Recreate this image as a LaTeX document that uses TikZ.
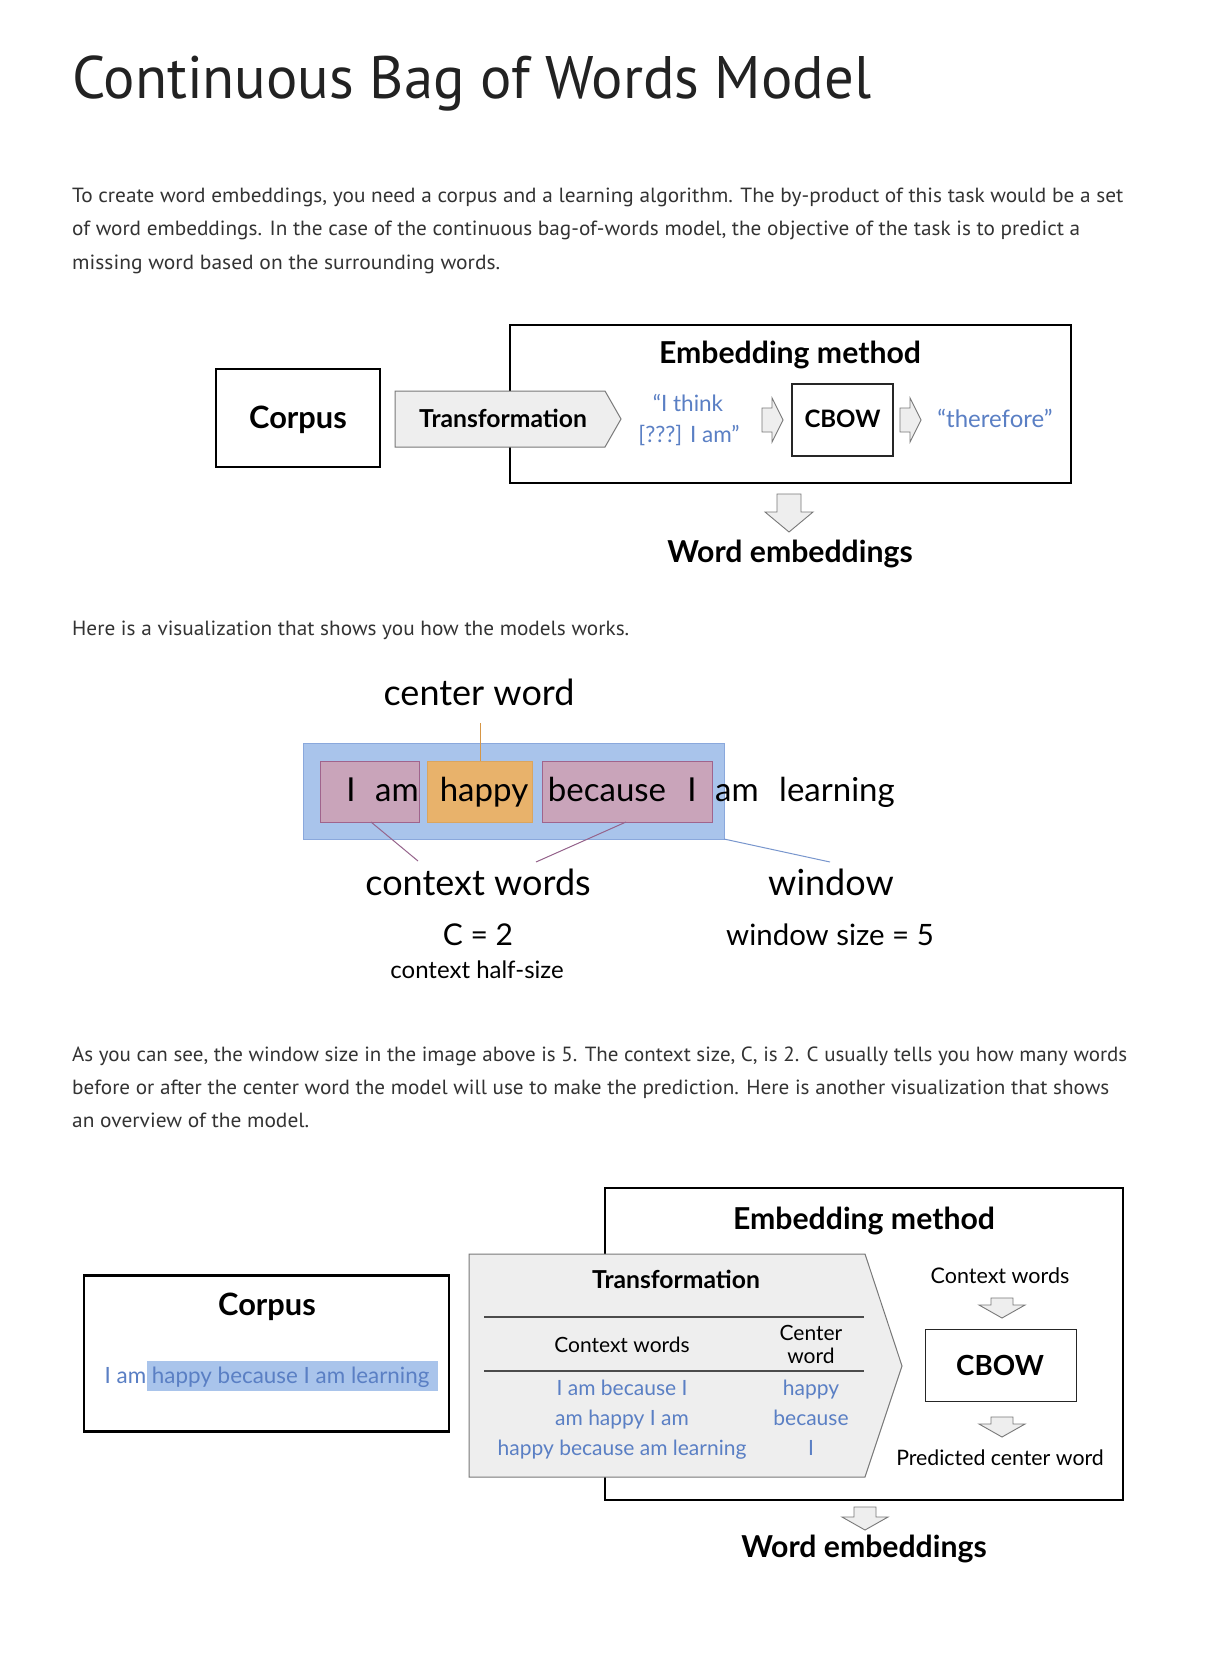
\documentclass[tikz,border=0pt]{standalone}
\usepackage{fontspec}
\usepackage{graphicx}
\setmainfont{Lato}
\newfontfamily\bodyfont{PT Sans}
\newcommand{\setfs}[1]{\fontsize{#1}{#1}\selectfont}
\newcommand{\fitw}[2]{\resizebox{#1}{\height}{#2}}
\definecolor{qblue}{RGB}{90,127,196}
\definecolor{bodygray}{RGB}{51,51,51}
\definecolor{titlegray}{RGB}{34,34,34}
\definecolor{arrfill}{RGB}{238,238,238}
\definecolor{arrdraw}{RGB}{120,120,120}
\definecolor{winfill}{RGB}{169,196,235}
\definecolor{windraw}{RGB}{138,168,220}
\definecolor{pinkfill}{RGB}{201,164,186}
\definecolor{pinkdraw}{RGB}{160,100,140}
\definecolor{orgfill}{RGB}{232,178,107}
\definecolor{orgdraw}{RGB}{218,165,95}
\definecolor{orgline}{RGB}{214,150,70}
\definecolor{purline}{RGB}{150,100,140}
\definecolor{blueline}{RGB}{120,150,205}
\definecolor{hlblue}{RGB}{169,196,235}
\begin{document}
\begin{tikzpicture}[x=1pt,y=-1pt,
  bodyline/.style={inner sep=0pt, anchor=base west, font=\bodyfont\setfs{20.5}, text=bodygray},
  lbl/.style={inner sep=0pt, anchor=base},
  thickbox/.style={draw=black, line width=2.2pt, inner sep=0pt},
  thinbox/.style={draw=black!85, line width=1.3pt, inner sep=0pt},
  blockarrow/.style={draw=arrdraw, fill=arrfill, line width=0.9pt, line join=miter},
  tablerule/.style={draw=black!70, line width=1.3pt},
  bluetxt/.style={lbl, text=qblue},
  boldtitle/.style={lbl, font=\bfseries\setfs{30.2}},
  corpusfont/.style={lbl, font=\bfseries\setfs{30.8}},
  transfont/.style={lbl, font=\bfseries\setfs{24.7}},
]
\useasboundingbox[fill=white] (0,0) rectangle (1207,1672);

% ---------------- title and paragraphs ----------------
\node[inner sep=0pt, anchor=base west, font=\bodyfont\setfs{60}, text=titlegray] (title) at (72,99)
  {\fitw{799pt}{Continuous Bag of Words Model}};

\node[bodyline] (p1a) at (72,203) {\fitw{1051pt}{To create word embeddings, you need a corpus and a learning algorithm. The by-product of this task would be a set}};
\node[bodyline] (p1b) at (72,236) {\fitw{1008pt}{of word embeddings. In the case of the continuous bag-of-words model, the objective of the task is to predict a}};
\node[bodyline] (p1c) at (72,269) {\fitw{428pt}{missing word based on the surrounding words.}};

\node[bodyline] (p2) at (72,635) {\fitw{557pt}{Here is a visualization that shows you how the models works.}};

\node[bodyline] (p3a) at (72,1061) {\fitw{1055pt}{As you can see, the window size in the image above is 5. The context size, C, is 2. C usually tells you how many words}};
\node[bodyline] (p3b) at (72,1094) {\fitw{1037pt}{before or after the center word the model will use to make the prediction. Here is another visualization that shows}};
\node[bodyline] (p3c) at (72,1127) {\fitw{237pt}{an overview of the model.}};

% ---------------- diagram 1 ----------------
\node[thickbox, minimum width=164pt, minimum height=98pt] (corpus1) at (298,418) {};
\node[corpusfont] (corpus1t) at (298,428) {Corpus};

\node[draw=black, line width=2pt, inner sep=0pt, minimum width=561pt, minimum height=158pt] (emb1) at (790.5,404) {};
\node[boldtitle] (emb1t) at (790,363) {Embedding method};

\draw[blockarrow, line width=1pt] (395,391) -- (605,391) -- (621,419) -- (605,447) -- (395,447) -- cycle;
\node[transfont] (trans1) at (503,427) {Transformation};

\node[bluetxt, font=\setfs{22.5}] (q1a) at (688,411) {“I think};
\node[bluetxt, font=\setfs{22.5}] (q1b) at (689,442) {[???] I am”};

\draw[blockarrow] (762,408) -- (772,408) -- (772,398) -- (783,420) -- (772,442) -- (772,432) -- (762,432) -- cycle;

\node[thinbox, minimum width=101pt, minimum height=72pt] (cbow1) at (842.5,420) {};
\node[lbl, font=\bfseries\setfs{24}] (cbow1t) at (842.5,427) {CBOW};

\draw[blockarrow] (900,408) -- (910,408) -- (910,398) -- (921,420) -- (910,442) -- (910,432) -- (900,432) -- cycle;

\node[bluetxt, font=\setfs{24}] (there1) at (995,427) {“therefore”};

\draw[blockarrow] (777,494) -- (801,494) -- (801,512) -- (813,512) -- (789,532) -- (765,512) -- (777,512) -- cycle;
\node[boldtitle] (we1) at (790,562) {Word embeddings};

% ---------------- diagram 2 ----------------
\node[lbl, font=\setfs{36}] (cw) at (479,705) {center word};

\node[draw=windraw, fill=winfill, line width=1pt, inner sep=0pt, minimum width=421pt, minimum height=96pt] (win) at (513.5,791) {};
\node[draw=pinkdraw, fill=pinkfill, line width=1pt, inner sep=0pt, minimum width=99pt, minimum height=61pt] (pink1) at (369.5,791.5) {};
\node[draw=orgdraw, fill=orgfill, line width=1pt, inner sep=0pt, minimum width=105pt, minimum height=61pt] (orange) at (479.5,791.5) {};
\node[draw=pinkdraw, fill=pinkfill, line width=1pt, inner sep=0pt, minimum width=170pt, minimum height=61pt] (pink2) at (627,791.5) {};

\node[lbl, font=\setfs{33}] (w1) at (351,801) {I};
\node[lbl, font=\setfs{33}] (w2) at (397,801) {am};
\node[lbl, font=\setfs{33}] (w3) at (484,801) {happy};
\node[lbl, font=\setfs{33}] (w4) at (607,801) {because};
\node[lbl, font=\setfs{33}] (w5) at (692,801) {I};
\node[lbl, font=\setfs{33}] (w6) at (737,801) {am};
\node[lbl, font=\setfs{33}] (w7) at (837,801) {learning};

\coordinate (cwa) at (480,723);
\coordinate (cwb) at (480,761);
\draw[orgline, line width=1pt] (cwa) -- (cwb);
\coordinate (c1a) at (371,822);
\coordinate (c1b) at (418,861);
\draw[purline, line width=1pt] (c1a) -- (c1b);
\coordinate (c2a) at (626,822);
\coordinate (c2b) at (536,862);
\draw[purline, line width=1pt] (c2a) -- (c2b);
\coordinate (wla) at (724,839);
\coordinate (wlb) at (830,862);
\draw[blueline, line width=1pt] (wla) -- (wlb);

\node[lbl, font=\setfs{36}] (ctxw) at (478,895) {context words};
\node[lbl, font=\setfs{36}] (winw) at (831,895) {window};
\node[lbl, font=\setfs{30}] (c2) at (478,945) {C = 2};
\node[lbl, font=\setfs{29.4}] (ws) at (830,945) {window size = 5};
\node[lbl, font=\setfs{24}] (chs) at (477,978) {context half-size};

% ---------------- diagram 3 ----------------
\node[thickbox, minimum width=365pt, minimum height=156pt] (corpus3) at (266.5,1353.5) {};
\node[corpusfont] (corpus3t) at (267,1315) {Corpus};
\fill[hlblue] (147,1361) rectangle (438,1391);
\node[lbl, font=\setfs{22.4}, text=qblue] (sent) at (267,1383) {I am happy because I am learning};

\node[draw=black, line width=2pt, inner sep=0pt, minimum width=518pt, minimum height=312pt] (emb3) at (864,1344) {};
\node[boldtitle] (emb3t) at (864,1229) {Embedding method};

\draw[blockarrow, line width=1pt] (469,1254) -- (865,1254) -- (902,1366) -- (865,1477) -- (469,1477) -- cycle;
\node[transfont] (trans3) at (676,1288) {Transformation};
\coordinate (r1a) at (484,1317);
\coordinate (r1b) at (864,1317);
\draw[tablerule] (r1a) -- (r1b);
\node[lbl, font=\setfs{21}] (hctx) at (622,1352) {Context words};
\node[lbl, font=\setfs{21}] (hcen1) at (811,1340) {Center};
\node[lbl, font=\setfs{21}] (hcen2) at (811,1363) {word};
\coordinate (r2a) at (484,1371);
\coordinate (r2b) at (864,1371);
\draw[tablerule] (r2a) -- (r2b);
\node[bluetxt, font=\setfs{21}] (t1l) at (622,1395) {I am because I};
\node[bluetxt, font=\setfs{21}] (t1r) at (811,1395) {happy};
\node[bluetxt, font=\setfs{21}] (t2l) at (622,1425) {am happy I am};
\node[bluetxt, font=\setfs{21}] (t2r) at (811,1425) {because};
\node[bluetxt, font=\setfs{21}] (t3l) at (622,1455) {happy because am learning};
\node[bluetxt, font=\setfs{21}] (t3r) at (811,1455) {I};

\node[lbl, font=\setfs{21.5}] (ctx3) at (1000,1283) {Context words};
\draw[blockarrow] (991,1298) -- (1013,1298) -- (1013,1305) -- (1025,1305) -- (1002,1318) -- (979,1305) -- (991,1305) -- cycle;
\node[thinbox, minimum width=151pt, minimum height=72pt] (cbow3) at (1001,1365.5) {};
\node[lbl, font=\bfseries\setfs{27.7}] (cbow3t) at (1000,1375) {CBOW};
\draw[blockarrow] (991,1417) -- (1013,1417) -- (1013,1424) -- (1025,1424) -- (1002,1437) -- (979,1424) -- (991,1424) -- cycle;
\node[lbl, font=\setfs{21.3}] (pred) at (1000,1465) {Predicted center word};

\draw[blockarrow] (854,1507) -- (876,1507) -- (876,1517) -- (888,1517) -- (865,1530) -- (842,1517) -- (854,1517) -- cycle;
\node[boldtitle] (we3) at (864,1557) {Word embeddings};
\end{tikzpicture}
\end{document}
